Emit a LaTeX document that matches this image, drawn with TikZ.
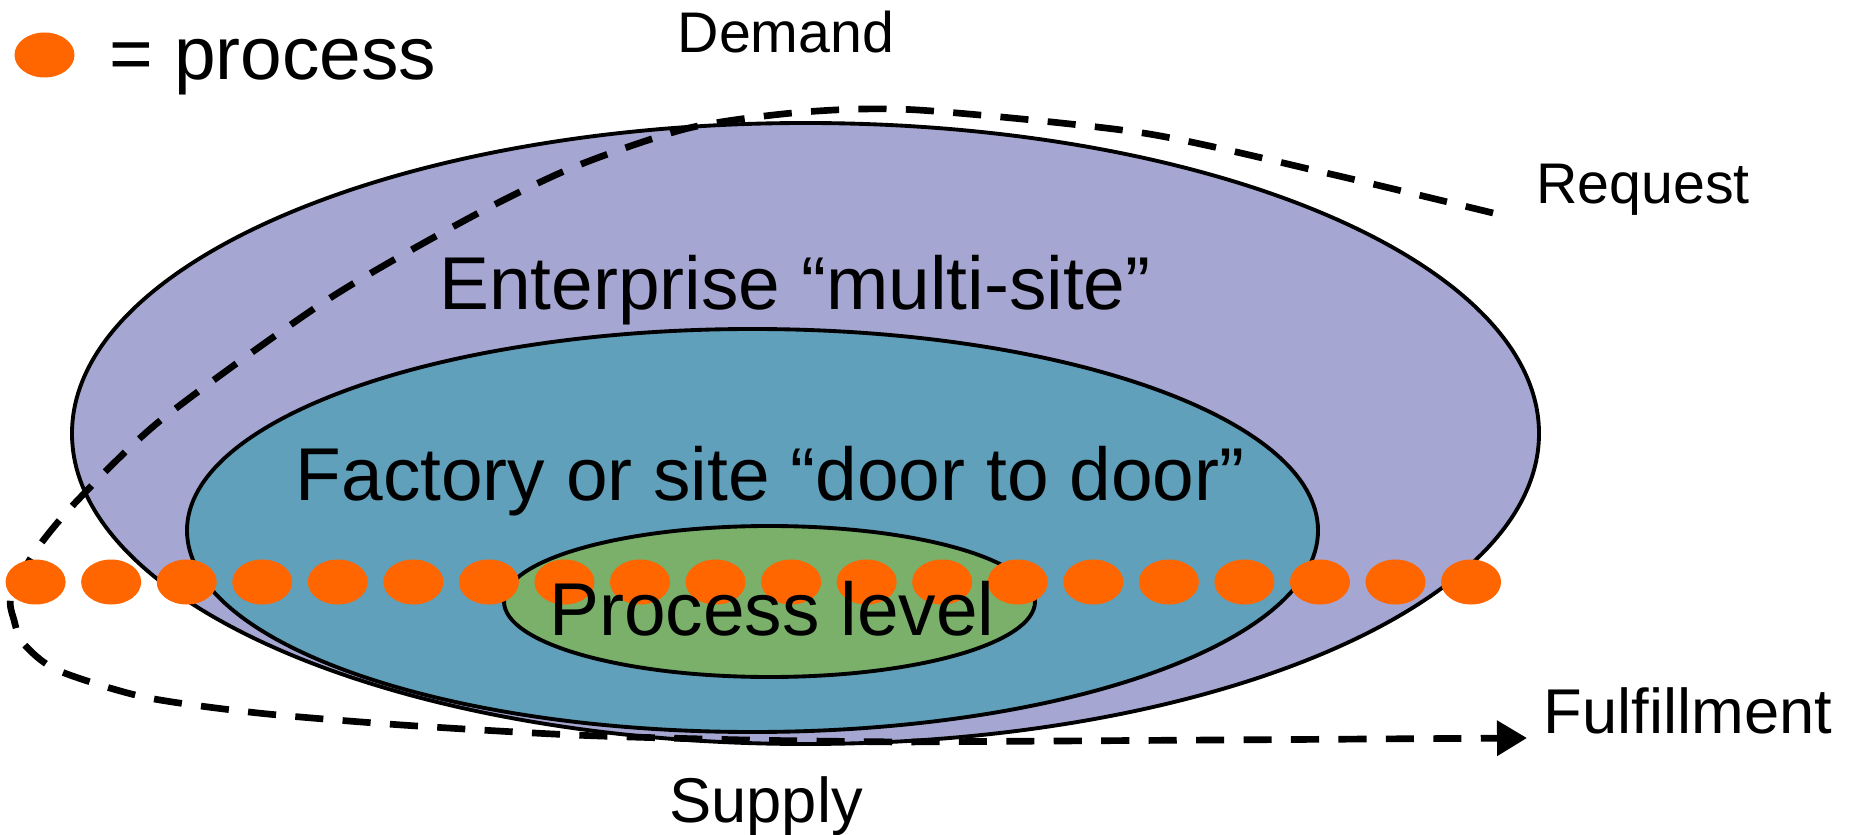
\documentclass[tikz,border=0pt]{standalone}
\usepackage{fontspec}
\setmainfont{Liberation Sans}
\usetikzlibrary{arrows.meta}
\definecolor{enterprise}{RGB}{166,166,210}
\definecolor{factory}{RGB}{96,160,186}
\definecolor{proclevel}{RGB}{122,176,106}
\definecolor{procorange}{RGB}{255,102,0}
\begin{document}
\begin{tikzpicture}[
	lbl/.style={anchor=base,inner sep=0pt,font=\fontsize{21.3}{24}\selectfont},
	sidelbl/.style={anchor=base,inner sep=0pt,font=\fontsize{16.3}{19}\selectfont},
	flowlbl/.style={anchor=base,inner sep=0pt,font=\fontsize{18}{21}\selectfont},
	level/.style={draw=black,line width=1.1pt},
	procdot/.style={fill=procorange},
	flow/.style={line width=1.9pt,dash pattern=on 8pt off 5.5pt}
]
	\useasboundingbox (0,0) rectangle (18.54,8.34);
	\draw[level,fill=enterprise] (8.055,4.005) ellipse (7.335 and 3.105);
	\draw[level,fill=factory] (7.525,3.035) ellipse (5.655 and 2.015);
	\draw[level,fill=proclevel] (7.695,2.325) ellipse (2.655 and 0.755);
	% demand to fulfillment
	\draw[flow,-{Triangle[length=0.3cm,width=0.34cm]}] plot[smooth,tension=0.45] coordinates {
		(14.93,6.21) (13.26,6.61) (11.43,7.01) (9.18,7.24) (8.04,7.22) (6.89,7.06)
		(5.74,6.67) (4.71,6.17) (3.27,5.34) (1.61,4.14) (0.75,3.31) (0.34,2.81)
		(0.11,2.37) (0.14,2.14) (0.23,1.91) (0.57,1.64) (1.44,1.37) (2.58,1.21)
		(4.02,1.09) (5.74,0.99) (7.46,0.94) (9.00,0.92)} -- (15.27,0.96);
	\foreach \i in {0,...,19}
		\fill[procdot] (0.356+0.7555*\i,2.52) ellipse (0.30 and 0.225);
	\fill[procdot] (0.445,7.79) ellipse (0.30 and 0.225);
	\node[lbl,anchor=base west] (legend) at (1.09,7.54) {= process};
	\node[sidelbl] (demand) at (7.86,7.81) {Demand};
	\node[sidelbl] (request) at (16.43,6.30) {Request};
	\node[flowlbl] (fulfil) at (16.88,1.01) {Fulfillment};
	\node[flowlbl] (supply) at (7.66,0.12) {Supply};
	\node[lbl] (enterprise) at (7.95,5.24) {Enterprise “multi-site”};
	\node[lbl] (site) at (7.70,3.34) {Factory or site “door to door”};
	\node[lbl] (process) at (7.72,1.99) {Process level};
\end{tikzpicture}
\end{document}
